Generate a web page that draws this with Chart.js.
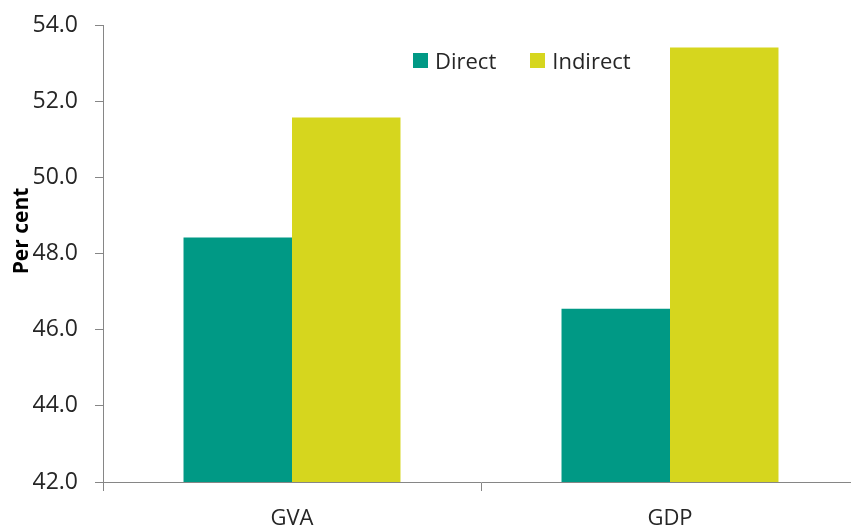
<!DOCTYPE html>
<html>
<head>
<meta charset="utf-8">
<script src="https://cdn.jsdelivr.net/npm/chart.js@4"></script>
<style>
  html, body { margin: 0; padding: 0; background: #fff; overflow: hidden; }
  #wrap { position: relative; width: 860px; height: 545px; }
  #legend {
    position: absolute; left: 413px; top: 45px;
    display: flex; align-items: center;
    font-family: "Open Sans", sans-serif; font-size: 22px; color: #262626;
  }
  #legend .item { display: flex; align-items: center; margin-right: 34px; }
  #legend .box { width: 15px; height: 15px; margin-right: 7px; }
</style>
</head>
<body>
<div id="wrap">
  <canvas id="shareChart" width="860" height="545"></canvas>
  <div id="legend"></div>
</div>
<script>
const categories = ['GVA', 'GDP'];
const seriesNames = ['Direct', 'Indirect'];
const directValues = [48.42, 46.55];
const indirectValues = [51.57, 53.41];
const yTicks = [42, 44, 46, 48, 50, 52, 54];

const colours = ['#009985', '#D6D61E'];
const axisGrey = '#868686';

// rotated y-axis caption, sitting against the tick labels
const axisCaption = {
  id: 'axisCaption',
  afterDraw(chart) {
    const ctx = chart.ctx;
    ctx.save();
    ctx.translate(28, 231);
    ctx.rotate(-Math.PI / 2);
    ctx.font = 'bold 21px "Open Sans"';
    ctx.fillStyle = '#000';
    ctx.textAlign = 'center';
    ctx.textBaseline = 'alphabetic';
    ctx.fillText('Per cent', 0, 0);
    ctx.restore();
  }
};

const chart = new Chart(document.getElementById('shareChart').getContext('2d'), {
  type: 'bar',
  data: {
    labels: categories,
    datasets: [
      { label: seriesNames[0], data: directValues, backgroundColor: colours[0] },
      { label: seriesNames[1], data: indirectValues, backgroundColor: colours[1] }
    ]
  },
  options: {
    responsive: false,
    animation: false,
    layout: { padding: { top: 25, right: 1, left: 0, bottom: 0 } },
    datasets: { bar: { categoryPercentage: 0.574, barPercentage: 1 } },
    plugins: { legend: { display: false }, tooltip: { enabled: false } },
    scales: {
      x: {
        afterFit(scale) { scale.height = 63; },
        border: { color: axisGrey, width: 1 },
        grid: { offset: true, drawOnChartArea: false, drawTicks: true, tickLength: 9, color: axisGrey },
        ticks: { padding: 15, color: '#262626', font: { family: 'Open Sans', size: 22 } }
      },
      y: {
        min: yTicks[0],
        max: yTicks[yTicks.length - 1],
        afterFit(scale) {
          scale.width = 103;
          // keep the label padding from pushing the plot area down
          scale.paddingTop = 0;
          scale.paddingBottom = 0;
        },
        afterBuildTicks(scale) { scale.ticks = yTicks.map(v => ({ value: v })); },
        border: { color: axisGrey, width: 1 },
        grid: { drawOnChartArea: false, drawTicks: true, tickLength: 8, color: axisGrey },
        ticks: {
          padding: 17,
          color: '#262626',
          font: { family: 'Open Sans', size: 23 },
          callback: v => Number(v).toFixed(1)
        }
      }
    }
  },
  plugins: [axisCaption]
});

// legend built from the chart's own datasets
const legendEl = document.getElementById('legend');
chart.data.datasets.forEach(ds => {
  const item = document.createElement('div');
  item.className = 'item';
  const box = document.createElement('span');
  box.className = 'box';
  box.style.background = ds.backgroundColor;
  const txt = document.createElement('span');
  txt.textContent = ds.label;
  item.appendChild(box);
  item.appendChild(txt);
  legendEl.appendChild(item);
});
</script>
</body>
</html>
